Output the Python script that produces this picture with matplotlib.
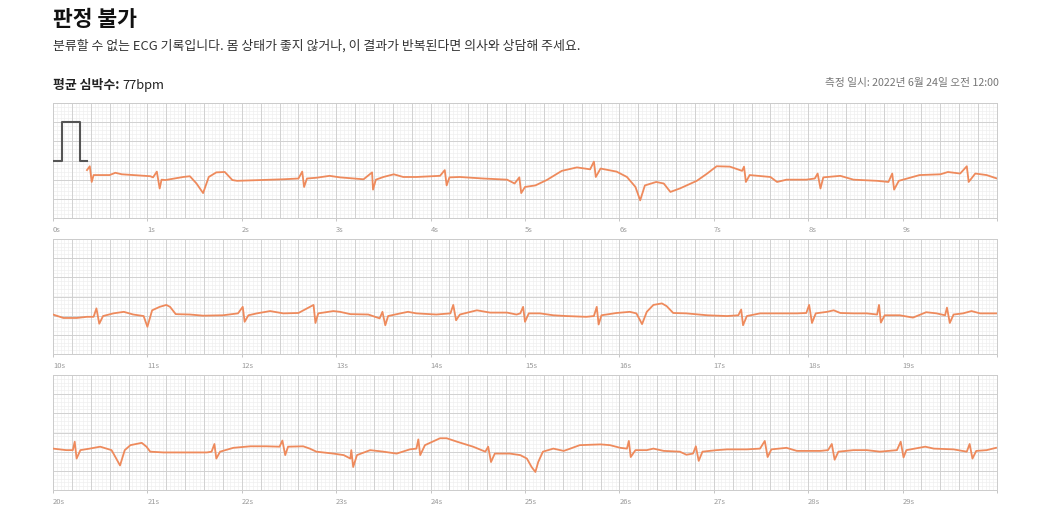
import numpy as np
import matplotlib.pyplot as plt

plt.rcParams['font.family'] = ['Noto Sans CJK KR', 'DejaVu Sans']

# calibration pulse (s, mV)
cal_t = [0.0, 0.10, 0.10, 0.29, 0.29, 0.36]
cal_v = [0.0, 0.0, 1.0, 1.0, 0.0, 0.0]

# strip 1 : 0-10 s
t1 = [0.36, 0.39, 0.41, 0.43, 0.60, 0.66, 0.73, 1.03, 1.06, 1.10,
      1.13, 1.15, 1.19, 1.38, 1.45, 1.52, 1.59, 1.65, 1.73, 1.82,
      1.90, 1.95, 2.44, 2.60, 2.64, 2.66, 2.69, 2.79, 2.93, 3.04,
      3.29, 3.38, 3.39, 3.42, 3.50, 3.61, 3.71, 3.85, 4.10, 4.15,
      4.17, 4.20, 4.31, 4.56, 4.81, 4.89, 4.94, 4.96, 5.00,
      5.11, 5.23, 5.39, 5.55, 5.69, 5.73, 5.75, 5.80, 5.97, 6.08,
      6.17, 6.22, 6.27, 6.39, 6.47, 6.54, 6.64, 6.82, 6.93, 7.03,
      7.17, 7.30, 7.32, 7.34, 7.38, 7.60, 7.67, 7.77, 7.98, 8.07,
      8.10, 8.13, 8.16, 8.34, 8.48, 8.73, 8.85, 8.89, 8.91, 8.96,
      9.18, 9.40, 9.48, 9.61, 9.68, 9.70, 9.77, 9.89, 10.00]
v1 = [-0.25, -0.15, -0.56, -0.38, -0.38, -0.32, -0.36, -0.41, -0.44, -0.29,
      -0.73, -0.50, -0.51, -0.43, -0.41, -0.60, -0.85, -0.43, -0.31, -0.30,
      -0.51, -0.53, -0.49, -0.47, -0.29, -0.69, -0.47, -0.45, -0.40, -0.44,
      -0.49, -0.31, -0.76, -0.50, -0.43, -0.36, -0.43, -0.43, -0.40, -0.25,
      -0.65, -0.44, -0.43, -0.47, -0.50, -0.60, -0.44, -0.85, -0.69,
      -0.65, -0.51, -0.27, -0.18, -0.23, -0.03, -0.43, -0.21, -0.29, -0.43,
      -0.69, -1.04, -0.65, -0.56, -0.60, -0.82, -0.73, -0.53, -0.34, -0.15,
      -0.16, -0.27, -0.16, -0.56, -0.38, -0.43, -0.56, -0.50, -0.50, -0.47,
      -0.34, -0.73, -0.44, -0.40, -0.50, -0.53, -0.56, -0.34, -0.76, -0.53,
      -0.38, -0.36, -0.30, -0.34, -0.15, -0.56, -0.34, -0.38, -0.47]

# strip 2 : 10-20 s
t2 = [10.00, 10.11, 10.25, 10.36, 10.43, 10.46, 10.49, 10.53, 10.64, 10.75,
      10.85, 10.96, 11.00, 11.05, 11.13, 11.20, 11.24, 11.30, 11.45, 11.59,
      11.80, 11.96, 12.01, 12.03, 12.07, 12.16, 12.30, 12.44, 12.60, 12.76,
      12.78, 12.81, 12.97, 13.04, 13.15, 13.34, 13.46, 13.49, 13.52, 13.55,
      13.68, 13.76, 13.85, 14.06, 14.21, 14.24, 14.27, 14.31, 14.49, 14.63,
      14.81, 14.91,
      14.95, 14.98, 15.00, 15.04, 15.16, 15.30, 15.44, 15.65, 15.73, 15.76,
      15.78, 15.81, 15.97, 16.11, 16.18, 16.24, 16.29, 16.36, 16.45, 16.50,
      16.57, 16.71, 16.93, 17.14, 17.26, 17.29, 17.31, 17.35, 17.49, 17.70,
      17.88, 17.98, 18.01, 18.04, 18.08, 18.20, 18.27, 18.34, 18.48, 18.62,
      18.73, 18.75, 18.77, 18.81, 18.97, 19.11, 19.25, 19.36, 19.45, 19.47,
      19.50, 19.54, 19.64, 19.73, 19.82, 20.00]
v2 = [-0.47, -0.56, -0.56, -0.53, -0.53, -0.31, -0.71, -0.51, -0.44, -0.40,
      -0.47, -0.51, -0.79, -0.36, -0.27, -0.22, -0.27, -0.46, -0.47, -0.50,
      -0.49, -0.44, -0.27, -0.66, -0.49, -0.44, -0.38, -0.44, -0.43, -0.22,
      -0.69, -0.44, -0.38, -0.40, -0.46, -0.47, -0.57, -0.40, -0.75, -0.51,
      -0.44, -0.40, -0.44, -0.47, -0.44, -0.22, -0.62, -0.47, -0.36, -0.42,
      -0.42, -0.47,
      -0.44, -0.27, -0.66, -0.44, -0.44, -0.49, -0.51, -0.53, -0.51, -0.27,
      -0.73, -0.49, -0.43, -0.40, -0.44, -0.72, -0.40, -0.22, -0.18, -0.25,
      -0.43, -0.44, -0.49, -0.51, -0.49, -0.34, -0.75, -0.51, -0.44, -0.44,
      -0.44, -0.43, -0.22, -0.69, -0.44, -0.40, -0.36, -0.43, -0.44, -0.44,
      -0.47, -0.22, -0.68, -0.49, -0.49, -0.55, -0.41, -0.44, -0.49, -0.29,
      -0.69, -0.47, -0.44, -0.38, -0.44, -0.44]

# strip 3 : 20-30 s
t3 = [20.00, 20.14, 20.21, 20.23, 20.25, 20.29, 20.39, 20.50, 20.62, 20.67,
      20.71, 20.76, 20.82, 20.94, 20.99, 21.03, 21.17, 21.38, 21.63, 21.68,
      21.71, 21.73, 21.77, 21.91, 22.09, 22.26, 22.40, 22.43, 22.46, 22.49,
      22.65, 22.72, 22.79, 22.97, 23.08, 23.15, 23.16, 23.18, 23.22, 23.36,
      23.50, 23.64, 23.78, 23.85, 23.87, 23.89, 23.94, 24.10, 24.17, 24.28,
      24.45, 24.58, 24.61, 24.64, 24.68, 24.84, 24.95,
      25.02, 25.07, 25.11, 25.14, 25.19, 25.30, 25.41, 25.48, 25.58, 25.80,
      25.90, 26.01, 26.08, 26.10, 26.12, 26.17, 26.29, 26.36, 26.47, 26.64,
      26.71, 26.78, 26.81, 26.84, 26.88, 27.03, 27.14, 27.35, 27.49, 27.54,
      27.57, 27.61, 27.77, 27.88, 28.13, 28.21, 28.25, 28.28, 28.32, 28.48,
      28.62, 28.76, 28.94, 28.98, 29.01, 29.04, 29.24, 29.33, 29.54, 29.68,
      29.71, 29.74, 29.78, 29.89, 29.99]
v3 = [-0.42, -0.46, -0.46, -0.24, -0.68, -0.46, -0.42, -0.37, -0.46, -0.68,
      -0.86, -0.46, -0.33, -0.27, -0.37, -0.50, -0.52, -0.52, -0.52, -0.50,
      -0.30, -0.68, -0.50, -0.40, -0.36, -0.36, -0.37, -0.21, -0.59, -0.37,
      -0.36, -0.42, -0.50, -0.55, -0.59, -0.68, -0.46, -0.90, -0.59, -0.46,
      -0.50, -0.55, -0.44, -0.42, -0.18, -0.59, -0.33, -0.15, -0.15, -0.24,
      -0.37, -0.50, -0.37, -0.77, -0.55, -0.55, -0.59,
      -0.68, -0.90, -1.03, -0.77, -0.50, -0.42, -0.48, -0.42, -0.33, -0.31,
      -0.33, -0.40, -0.42, -0.22, -0.64, -0.46, -0.46, -0.42, -0.48, -0.50,
      -0.58, -0.55, -0.36, -0.74, -0.50, -0.46, -0.44, -0.44, -0.42, -0.22,
      -0.64, -0.44, -0.40, -0.48, -0.48, -0.46, -0.30, -0.71, -0.50, -0.46,
      -0.46, -0.50, -0.46, -0.24, -0.65, -0.46, -0.37, -0.42, -0.44, -0.50,
      -0.30, -0.68, -0.48, -0.46, -0.40]

strips = [(0, t1, v1), (10, t2, v2), (20, t3, v3)]

ecg_color = '#ee8a5c'
fig = plt.figure(figsize=(10.4, 5.2), dpi=100)

left, width, height = 53 / 1040, 944 / 1040, 115 / 520
bottoms = [1 - 218 / 520, 1 - 354 / 520, 1 - 490 / 520]

for i, (start, t, v) in enumerate(strips):
    ax = fig.add_axes([left, bottoms[i], width, height])
    ax.set_xlim(start, start + 10)
    ax.set_ylim(-1.5, 1.5)

    # ecg paper grid
    ax.vlines(np.arange(start, start + 10.001, 0.04), -1.5, 1.5, color='#efefef', lw=0.45, zorder=0)
    ax.hlines(np.arange(-1.5, 1.501, 0.1), start, start + 10, color='#efefef', lw=0.45, zorder=0)
    ax.vlines(np.arange(start, start + 10.001, 0.2), -1.5, 1.5, color='#cfcfcf', lw=0.65, zorder=1)
    ax.hlines(np.arange(-1.5, 1.501, 0.5), start, start + 10, color='#cfcfcf', lw=0.65, zorder=1)

    if i == 0:
        ax.plot(cal_t, cal_v, color='#555555', lw=1.5, zorder=3)
    ax.plot(t, v, color=ecg_color, lw=1.3, zorder=4)

    secs = np.arange(start, start + 11)
    ax.set_xticks(secs)
    ax.set_xticklabels([f'{s}s' for s in secs[:-1]] + [''])
    ax.set_yticks([])
    ax.tick_params(axis='x', direction='out', length=2.5, width=0.6, color='#bbbbbb',
                   labelsize=5.5, labelcolor='#999999', pad=3)
    for lab in ax.get_xticklabels():
        lab.set_ha('left')
    for sp in ax.spines.values():
        sp.set_color('#cccccc')
        sp.set_linewidth(0.7)

fig.text(53 / 1040, 1 - 20 / 520, '판정 불가', fontsize=15.5, fontweight='bold',
         color='#111111', va='center')
fig.text(53 / 1040, 1 - 46 / 520,
         '분류할 수 없는 ECG 기록입니다. 몸 상태가 좋지 않거나, 이 결과가 반복된다면 의사와 상담해 주세요.',
         fontsize=9.3, color='#333333', va='center')
hr = fig.text(53 / 1040, 1 - 85 / 520, '평균 심박수: ', fontsize=9.3, fontweight='bold',
              color='#222222', va='center')
fig.canvas.draw()
bb = hr.get_window_extent()
fig.text(bb.x1 / 1040, 1 - 85 / 520, '77bpm', fontsize=9.3, color='#222222', va='center')
fig.text(999 / 1040, 1 - 83 / 520, '측정 일시: 2022년 6월 24일 오전 12:00', fontsize=7.7,
         color='#777777', va='center', ha='right')

fig.savefig('out.png', dpi=100)
